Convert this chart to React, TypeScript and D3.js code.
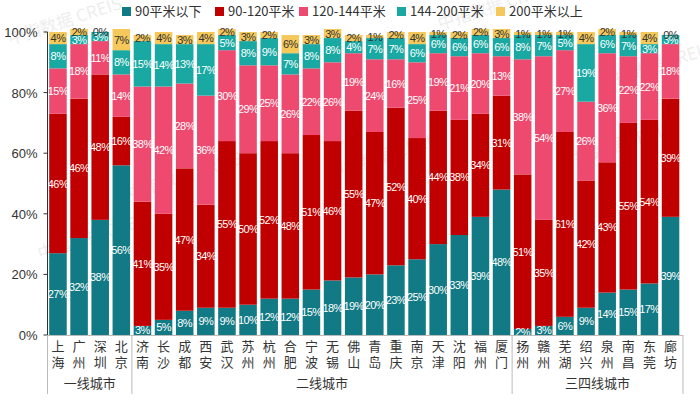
import * as React from 'react';
import * as d3 from 'd3';

const cities = ['上海', '广州', '深圳', '北京', '济南', '长沙', '成都', '西安', '武汉', '苏州', '杭州', '合肥', '宁波', '无锡', '佛山', '青岛', '重庆', '南京', '天津', '沈阳', '福州', '厦门', '扬州', '赣州', '芜湖', '绍兴', '泉州', '南昌', '东莞', '廊坊'];
const seriesNames = ['90平米以下', '90-120平米', '120-144平米', '144-200平米', '200平米以上'];
const below90 = [27, 32, 38, 56, 3, 5, 8, 9, 9, 10, 12, 12, 15, 18, 19, 20, 23, 25, 30, 33, 39, 48, 2, 3, 6, 9, 14, 15, 17, 39];
const s90to120 = [46, 46, 48, 16, 41, 35, 47, 34, 55, 50, 52, 48, 51, 46, 55, 47, 52, 40, 44, 38, 34, 31, 51, 35, 61, 42, 43, 55, 54, 39];
const s120to144 = [15, 18, 11, 14, 38, 42, 28, 36, 30, 29, 25, 26, 22, 26, 19, 24, 16, 25, 19, 21, 20, 13, 38, 54, 27, 26, 36, 22, 22, 18];
const s144to200 = [8, 3, 3, 8, 15, 14, 13, 17, 5, 8, 9, 7, 8, 8, 4, 7, 7, 6, 6, 6, 6, 6, 8, 7, 5, 19, 6, 7, 3, 3];
const above200 = [4, 2, 0, 7, 2, 4, 3, 4, 2, 3, 2, 6, 3, 3, 2, 1, 2, 4, 1, 2, 2, 3, 1, 1, 1, 4, 2, 1, 4, 0];
const groups = [
  { name: '一线城市', count: 4 },
  { name: '二线城市', count: 18 },
  { name: '三四线城市', count: 8 },
];
const yTicks = [0, 20, 40, 60, 80, 100];

const colors = ['#127a84', '#c00000', '#ee4a70', '#19a8a2', '#f4c85a'];
const labelColors = ['#fff', '#fff', '#fff', '#fff', '#333'];
const watermarks = [
  [10, 45], [440, 30], [130, 200], [330, 180], [560, 170], [40, 260], [600, 90],
];

export default function App() {
  const width = 700;
  const height = 402;
  const left = 47.5;
  const right = 681;
  const top = 32;
  const bottom = 335;
  const cjk = "'Noto Sans CJK SC', sans-serif";

  const x = d3.scaleBand<string>().domain(cities).range([left, right]).paddingInner(0.17).paddingOuter(0.08);
  const y = d3.scaleLinear().domain([0, 100]).range([bottom, top]);

  const rows = cities.map((c, i) => ({
    city: c,
    vals: [below90[i], s90to120[i], s120to144[i], s144to200[i], above200[i]],
  }));
  const stack = d3.stack<any>().keys(['0', '1', '2', '3', '4']).value((d, k) => d.vals[+k]);
  const series = stack(rows);

  let idx = 0;
  const groupSpans = groups.map(g => {
    const start = idx;
    idx += g.count;
    const x0 = start === 0 ? left : (x(cities[start - 1])! + x.bandwidth() + x(cities[start])!) / 2;
    const x1 = idx === cities.length ? right + 2 : (x(cities[idx - 1])! + x.bandwidth() + x(cities[idx])!) / 2;
    return { ...g, x0, x1 };
  });

  return (
    <svg width={width} height={height} style={{ position: 'absolute', left: 0, top: 0, background: '#fff' }}
      fontFamily="'Liberation Sans', Arial, 'Noto Sans CJK SC', sans-serif">
      {/* watermark */}
      {watermarks.map(([wx, wy], i) => (
        <text key={i} x={wx} y={wy} fontSize={17} fill="#aaa" opacity={0.2} transform={`rotate(-18 ${wx} ${wy})`}
          fontFamily={cjk}>中指数据 CREIS</text>
      ))}

      {/* legend */}
      {seriesNames.map((n, i) => {
        const lx = [122, 215, 299, 397, 496][i];
        return (
          <g key={n}>
            <rect x={lx} y={7} width={9} height={9} fill={colors[i]} />
            <text x={lx + 13} y={16} fontSize={13} fill="#333" fontFamily={cjk}>{n}</text>
          </g>
        );
      })}

      {/* bars */}
      {series.map((s, si) => (
        <g key={si}>
          {s.map((d, ci) => (
            <rect key={ci} x={x(cities[ci])} y={y(d[1])} width={x.bandwidth()} height={y(d[0]) - y(d[1])} fill={colors[si]} />
          ))}
        </g>
      ))}

      {/* labels */}
      {series.map((s, si) => (
        <g key={'l' + si}>
          {s.map((d, ci) => (
            <text key={ci} x={x(cities[ci])! + x.bandwidth() / 2} y={(y(d[0]) + y(d[1])) / 2 + 4}
              textAnchor="middle" fontSize={11} letterSpacing={-0.6} fill={labelColors[si]}>
              {rows[ci].vals[si]}%
            </text>
          ))}
        </g>
      ))}

      {/* y axis */}
      <line x1={left} x2={left} y1={top} y2={bottom} stroke="#333" />
      {yTicks.map(t => (
        <g key={t}>
          <line x1={left - 4} x2={left} y1={y(t)} y2={y(t)} stroke="#333" />
          <text x={left - 10} y={y(t) + 5} textAnchor="end" fontSize={13} fill="#333">{t}%</text>
        </g>
      ))}

      {/* x axis */}
      <line x1={left} x2={right + 2} y1={bottom + 0.5} y2={bottom + 0.5} stroke="#bbb" />
      <g opacity={0.99} fontFamily={cjk} fontSize={13} fill="#333">
        {cities.map(c => (
          <g key={c}>
            <text x={x(c)! + x.bandwidth() / 2} y={351} textAnchor="middle">{c[0]}</text>
            <text x={x(c)! + x.bandwidth() / 2} y={367} textAnchor="middle">{c[1]}</text>
          </g>
        ))}
      </g>
      {groupSpans.map((g, i) => (
        <g key={g.name}>
          {i === 0 && <line x1={g.x0} x2={g.x0} y1={bottom} y2={394} stroke="#bbb" />}
          <line x1={g.x1} x2={g.x1} y1={bottom} y2={394} stroke="#bbb" />
          <text x={(g.x0 + g.x1) / 2} y={388} textAnchor="middle" fontSize={13} fill="#333" fontFamily={cjk}>{g.name}</text>
        </g>
      ))}
    </svg>
  );
}
